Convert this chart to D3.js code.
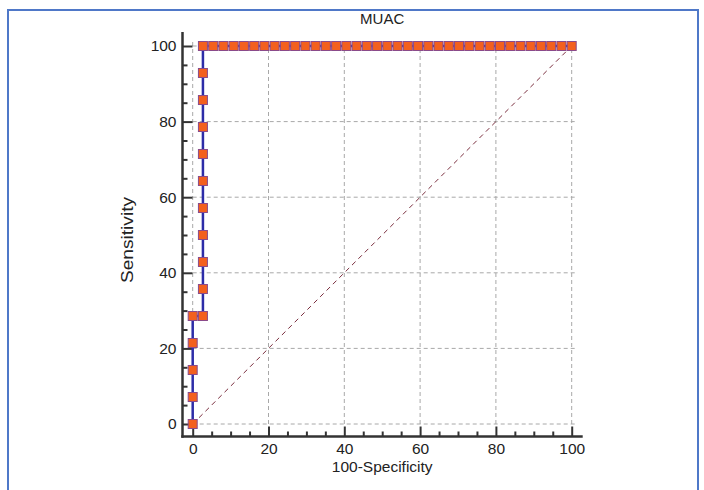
<!DOCTYPE html>
<html>
<head>
<meta charset="utf-8">
<script src="https://cdn.jsdelivr.net/npm/d3@7"></script>
<style>
  body { margin: 0; background: #fff; }
  svg { display: block; font-family: "Liberation Sans", Arial, sans-serif; }
</style>
</head>
<body>
<div id="chart"></div>
<script>
// ROC points for MUAC (100-Specificity, Sensitivity)
var specPts = [0, 0, 0, 0, 0,
    2.70, 2.70, 2.70, 2.70, 2.70, 2.70, 2.70, 2.70, 2.70, 2.70, 2.70,
    5.41, 8.11, 10.81, 13.51, 16.22, 18.92, 21.62, 24.32, 27.03, 29.73,
    32.43, 35.14, 37.84, 40.54, 43.24, 45.95, 48.65, 51.35, 54.05, 56.76,
    59.46, 62.16, 64.86, 67.57, 70.27, 72.97, 75.68, 78.38, 81.08, 83.78,
    86.49, 89.19, 91.89, 94.59, 97.30, 100];
var sensPts = [0, 7.14, 14.29, 21.43, 28.57,
    28.57, 35.71, 42.86, 50, 57.14, 64.29, 71.43, 78.57, 85.71, 92.86, 100,
    100, 100, 100, 100, 100, 100, 100, 100, 100, 100,
    100, 100, 100, 100, 100, 100, 100, 100, 100, 100,
    100, 100, 100, 100, 100, 100, 100, 100, 100, 100,
    100, 100, 100, 100, 100, 100];
var majorTicks = [0, 20, 40, 60, 80, 100];
var minorTicks = [5, 10, 15, 25, 30, 35, 45, 50, 55, 65, 70, 75, 85, 90, 95];

var W = 704, H = 490;

var svg = d3.select("#chart").append("svg")
    .attr("width", W)
    .attr("height", H);

// blue frame round the figure (bottom edge runs off the picture)
svg.append("rect")
    .attr("x", 8).attr("y", 10)
    .attr("width", 690).attr("height", 500)
    .attr("fill", "none")
    .attr("stroke", "#4f78c8")
    .attr("stroke-width", 2);

var x = d3.scaleLinear().domain([0, 100]).range([192.7, 571.7]);
var y = d3.scaleLinear().domain([0, 100]).range([424, 46]);

// axis lines sit away from the data area
var axisX = 182.5, axisY = 436.5;

var points = specPts.map(function(d, i) { return {x: d, y: sensPts[i]}; });

//Grid
var grid = svg.append("g")
    .attr("stroke", "#a8a8a8")
    .attr("stroke-width", 1)
    .attr("stroke-dasharray", "4,3");
grid.selectAll(".gx").data(majorTicks).enter().append("line")
    .attr("x1", function(d) { return x(d); })
    .attr("x2", function(d) { return x(d); })
    .attr("y1", y(0))
    .attr("y2", y(100) - 6);
grid.selectAll(".gy").data(majorTicks).enter().append("line")
    .attr("y1", function(d) { return y(d); })
    .attr("y2", function(d) { return y(d); })
    .attr("x1", x(0))
    .attr("x2", x(100) + 6);

//Diagonal reference line
svg.append("line")
    .attr("x1", x(0)).attr("y1", y(0))
    .attr("x2", x(100)).attr("y2", y(100))
    .attr("stroke", "#7a2e3e")
    .attr("stroke-width", 1)
    .attr("stroke-dasharray", "5,4");

//Y axis
var yAxis = svg.append("g")
    .attr("transform", "translate(" + axisX + ",0)")
    .call(d3.axisLeft(y).tickValues(majorTicks).tickSize(-10).tickPadding(6).tickSizeOuter(0));
yAxis.select(".domain").remove();
svg.append("g")
    .attr("transform", "translate(" + axisX + ",0)")
    .call(d3.axisLeft(y).tickValues(minorTicks).tickSize(-5).tickFormat("").tickSizeOuter(0))
    .select(".domain").remove();

//X axis
var xAxis = svg.append("g")
    .attr("transform", "translate(0," + axisY + ")")
    .call(d3.axisBottom(x).tickValues(majorTicks).tickSize(-10).tickPadding(6).tickSizeOuter(0));
xAxis.select(".domain").remove();
svg.append("g")
    .attr("transform", "translate(0," + axisY + ")")
    .call(d3.axisBottom(x).tickValues(minorTicks).tickSize(-5).tickFormat("").tickSizeOuter(0))
    .select(".domain").remove();

svg.selectAll(".tick line").attr("stroke", "#333").attr("stroke-width", 2);
svg.selectAll(".tick text")
    .attr("fill", "#222")
    .style("font-size", "15.5px")
    .style("font-family", "'Liberation Sans', Arial, sans-serif");

//Axis lines
svg.append("line")
    .attr("x1", axisX).attr("x2", axisX)
    .attr("y1", y(100) - 14).attr("y2", axisY + 1.2)
    .attr("stroke", "#333").attr("stroke-width", 2.5);
svg.append("line")
    .attr("x1", axisX - 1.2).attr("x2", x(100) + 11)
    .attr("y1", axisY).attr("y2", axisY)
    .attr("stroke", "#333").attr("stroke-width", 2.5);

//ROC curve
var line = d3.line()
    .x(function(d) { return x(d.x); })
    .y(function(d) { return y(d.y); });

svg.append("path")
    .datum(points)
    .attr("d", line)
    .attr("fill", "none")
    .attr("stroke", "#2d2da8")
    .attr("stroke-width", 2.5);

svg.selectAll(".pt")
    .data(points)
    .enter().append("rect")
    .attr("class", "pt")
    .attr("x", function(d) { return x(d.x) - 4.5; })
    .attr("y", function(d) { return y(d.y) - 4.5; })
    .attr("width", 9)
    .attr("height", 9)
    .attr("fill", "#f3601e")
    .attr("stroke", "#8a4a8a")
    .attr("stroke-width", 1);

//Title
svg.append("text")
    .attr("x", (x(0) + x(100)) / 2)
    .attr("y", 23.5)
    .attr("text-anchor", "middle")
    .style("font-size", "15px")
    .attr("fill", "#222")
    .text("MUAC");

//X-axis label
svg.append("text")
    .attr("x", (x(0) + x(100)) / 2)
    .attr("y", 471.5)
    .attr("text-anchor", "middle")
    .style("font-size", "15.5px")
    .attr("fill", "#222")
    .text("100-Specificity");

//Y-axis label
svg.append("text")
    .attr("transform", "translate(133,240) rotate(-90)")
    .attr("text-anchor", "middle")
    .style("font-size", "16px")
    .attr("textLength", 86)
    .attr("lengthAdjust", "spacingAndGlyphs")
    .attr("fill", "#222")
    .text("Sensitivity");
</script>
</body>
</html>
